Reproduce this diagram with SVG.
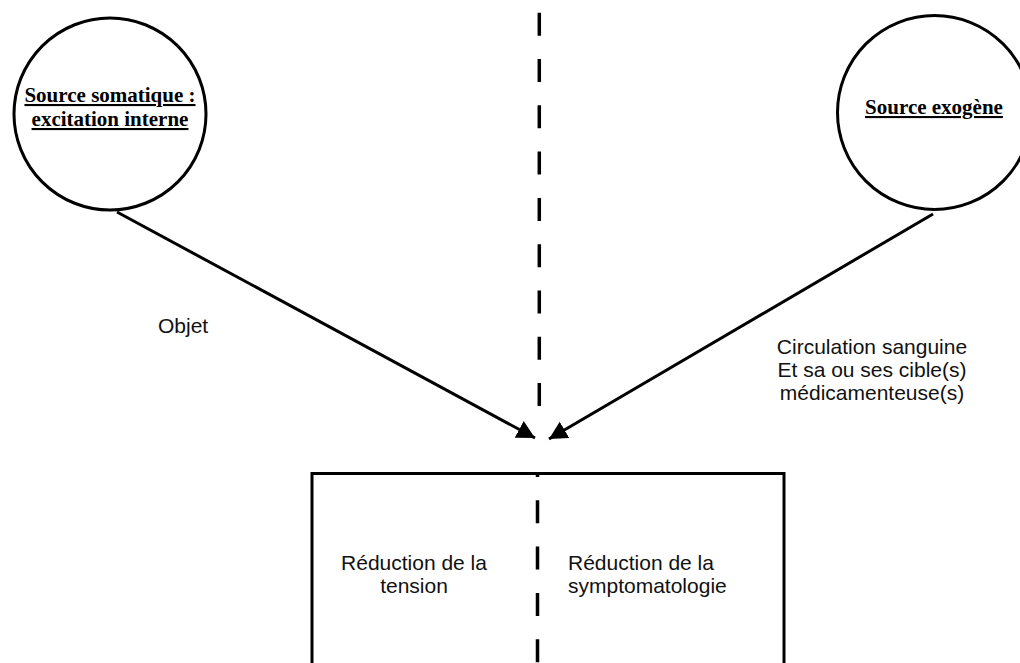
<svg xmlns="http://www.w3.org/2000/svg" width="1020" height="663" viewBox="0 0 1020 663">
<style>
.node{fill:#fff;stroke:#000;stroke-width:3}
.title{font-family:"Liberation Serif","Times New Roman",serif;font-weight:bold;font-size:21px;text-decoration:underline;fill:#000}
.lbl{font-family:"Liberation Sans",Arial,Helvetica,sans-serif;font-size:21px;fill:#111}
.edge{fill:none;stroke:#000;stroke-width:3}
.dash{fill:none;stroke:#000;stroke-width:3.5;stroke-dasharray:23 23.3}
</style>
<defs>
<marker id="arr" markerUnits="userSpaceOnUse" markerWidth="20" markerHeight="20" refX="18" refY="10" orient="auto" viewBox="0 0 20 20">
<path d="M0,0.5 L18,10 L0,19.5 z" fill="#000"/>
</marker>
</defs>
<rect width="1020" height="663" fill="#fff"/>
<g id="node-somatique">
<circle class="node" cx="110" cy="114" r="96"/>
<text class="title" x="110" y="102" text-anchor="middle">Source somatique :</text>
<text class="title" x="110" y="126" text-anchor="middle">excitation interne</text>
</g>
<g id="node-exogene">
<circle class="node" cx="934.5" cy="112.5" r="97"/>
<text class="title" x="934" y="114" text-anchor="middle">Source exogène</text>
</g>
<g id="node-reduction">
<rect class="node" x="312" y="473.5" width="472" height="200"/>
<text class="lbl" text-anchor="middle"><tspan x="414" y="570">Réduction de la</tspan><tspan x="414" y="593">tension</tspan></text>
<text class="lbl"><tspan x="568" y="570">Réduction de la</tspan><tspan x="568" y="593">symptomatologie</tspan></text>
</g>
<g id="connectors">
<line class="dash" x1="539.3" y1="12.7" x2="539.3" y2="407"/>
<line class="dash" x1="537.5" y1="473" x2="537.5" y2="663" style="stroke-dashoffset:19"/>
<line class="edge" x1="117" y1="212" x2="535" y2="438" marker-end="url(#arr)"/>
<line class="edge" x1="933" y1="214" x2="549" y2="439" marker-end="url(#arr)"/>
<text class="lbl" x="158" y="333">Objet</text>
<text class="lbl" text-anchor="middle"><tspan x="872" y="354">Circulation sanguine</tspan><tspan x="872" y="377">Et sa ou ses cible(s)</tspan><tspan x="872" y="400">médicamenteuse(s)</tspan></text>
</g>
</svg>
